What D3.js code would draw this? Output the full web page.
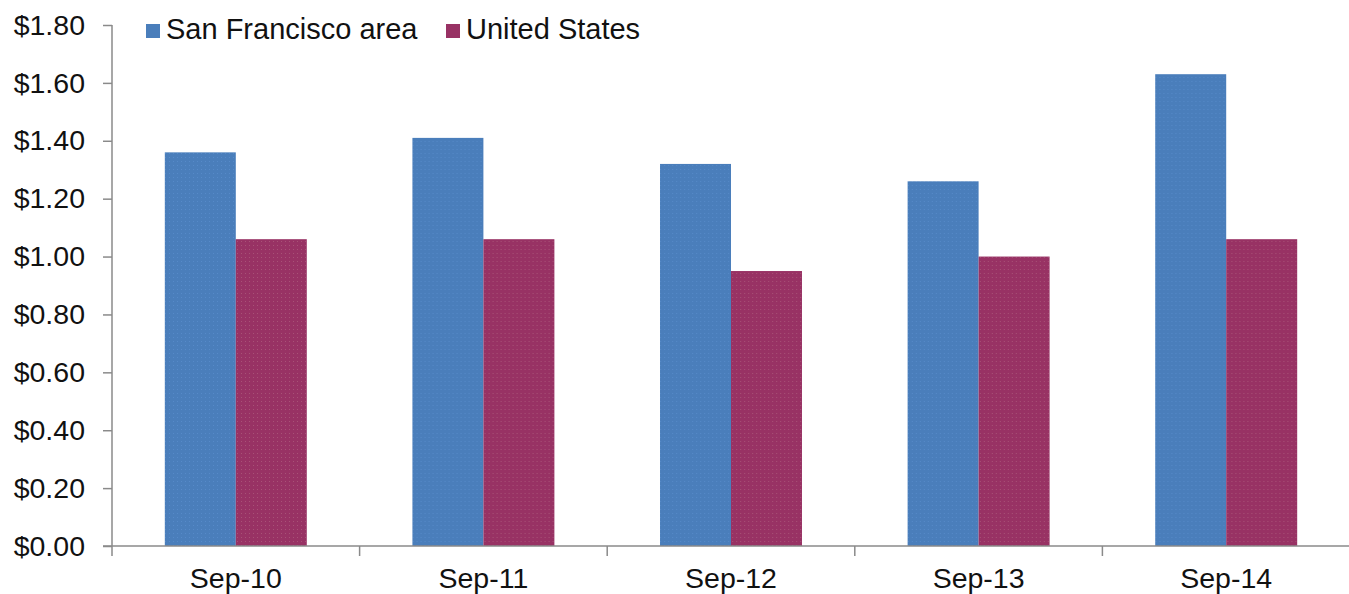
<!DOCTYPE html>
<html>
<head>
<meta charset="utf-8">
<script src="https://cdn.jsdelivr.net/npm/d3@7"></script>
<style>
  html, body { margin: 0; padding: 0; background: #fff; }
  svg { display: block; }
  text { font-family: "Liberation Sans", Arial, sans-serif; fill: #111; }
</style>
</head>
<body>
<svg id="chart" width="1349" height="594"></svg>
<script>
const categories = ["Sep-10", "Sep-11", "Sep-12", "Sep-13", "Sep-14"];
const seriesNames = ["San Francisco area", "United States"];
const sanFrancisco = [1.36, 1.41, 1.32, 1.26, 1.63];
const unitedStates = [1.06, 1.06, 0.95, 1.00, 1.06];
const yTicks = [0, 0.2, 0.4, 0.6, 0.8, 1.0, 1.2, 1.4, 1.6, 1.8];
const colors = ["#4a7ebb", "#983264"];

const seriesValues = [sanFrancisco, unitedStates];
const svg = d3.select("#chart");
const plotLeft = 112, plotRight = 1350, plotTop = 25, plotBottom = 546;
const fontSize = 28.5;

// patterns to mimic the dotted texture
const defs = svg.append("defs");
const dotColors = ["#5b8fcf", "#b0607f"];
colors.forEach((c, i) => {
  const p = defs.append("pattern").attr("id", "pat" + i)
    .attr("patternUnits", "userSpaceOnUse").attr("width", 4).attr("height", 4);
  p.append("rect").attr("width", 4).attr("height", 4).attr("fill", c);
  p.append("rect").attr("x", 1).attr("y", 1).attr("width", 1).attr("height", 1).attr("fill", dotColors[i]).attr("opacity", 0.7);
});

const y = d3.scaleLinear().domain([0, 1.8]).range([plotBottom, plotTop]);
const x0 = d3.scaleBand().domain(categories).range([plotLeft, plotRight]).padding(0);
const x1 = d3.scaleBand().domain(seriesNames).range([0, x0.bandwidth()]).paddingInner(0).paddingOuter(0.744);

// bars
const groups = svg.append("g").selectAll("g").data(categories).join("g")
  .attr("transform", d => `translate(${x0(d)},0)`);
groups.selectAll("rect")
  .data((d, i) => seriesNames.map((s, j) => ({ s, j, v: seriesValues[j][i] })))
  .join("rect")
  .attr("x", d => x1(d.s))
  .attr("y", d => y(d.v))
  .attr("width", x1.bandwidth())
  .attr("height", d => plotBottom - y(d.v))
  .attr("fill", d => `url(#pat${d.j})`);

// y axis
const yAxis = d3.axisLeft(y).tickValues(yTicks).tickFormat(d => "$" + d3.format(".2f")(d)).tickSize(9).tickPadding(18);
const gy = svg.append("g").attr("transform", `translate(${plotLeft},0)`).call(yAxis);
gy.select(".domain").attr("stroke", "#8a8a8a").attr("stroke-width", 1.5).attr("d", `M0,${plotTop}V${plotBottom}`);
gy.selectAll(".tick line").attr("stroke", "#8a8a8a").attr("stroke-width", 1.5);
gy.selectAll(".tick text").attr("font-size", fontSize).attr("fill", "#111")
  .style("font-family", '"Liberation Sans", Arial, sans-serif');

// x axis
const gx = svg.append("g").attr("transform", `translate(0,${plotBottom})`);
gx.append("line").attr("x1", plotLeft - 9).attr("x2", plotRight).attr("y1", 0).attr("y2", 0)
  .attr("stroke", "#8a8a8a").attr("stroke-width", 1.5);
const boundaries = categories.map(c => x0(c)).concat([x0(categories[categories.length - 1]) + x0.bandwidth()]);
gx.selectAll("line.tk").data(boundaries).join("line").attr("class", "tk")
  .attr("x1", d => d).attr("x2", d => d).attr("y1", 0).attr("y2", 10)
  .attr("stroke", "#8a8a8a").attr("stroke-width", 1.5);
gx.selectAll("text").data(categories).join("text")
  .attr("x", d => x0(d) + x0.bandwidth() / 2)
  .attr("y", 42)
  .attr("text-anchor", "middle")
  .attr("font-size", fontSize)
  .text(d => d);

// legend
const legendItems = [{ name: seriesNames[0], x: 146 }, { name: seriesNames[1], x: 446 }];
const lg = svg.append("g");
legendItems.forEach((it, i) => {
  lg.append("rect").attr("x", it.x).attr("y", 24).attr("width", 14).attr("height", 14).attr("fill", colors[i]);
  lg.append("text").attr("x", it.x + 20).attr("y", 39).attr("font-size", 29).text(it.name);
});
</script>
</body>
</html>
